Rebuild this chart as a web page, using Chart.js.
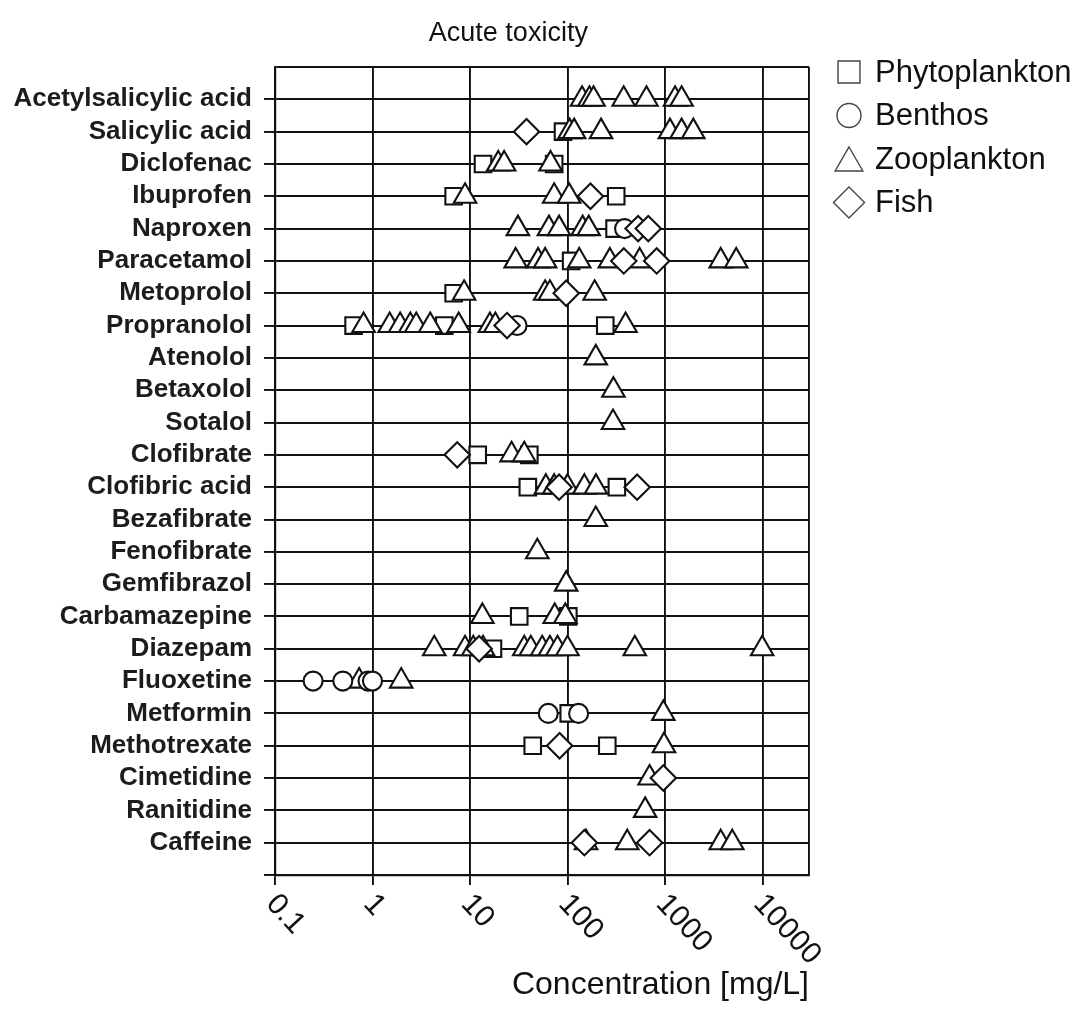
<!DOCTYPE html>
<html>
<head>
<meta charset="utf-8">
<title>Acute toxicity</title>
<script src="https://cdn.jsdelivr.net/npm/chart.js@4"></script>
<style>
    html, body { margin: 0; padding: 0; background: #fff; }
    canvas { display: block; }
</style>
</head>
<body>
<canvas id="chart" width="1081" height="1015"></canvas>
<script>
const chartTitle = 'Acute toxicity';
const axisTitle = 'Concentration [mg/L]';

const drugs = [
    'Acetylsalicylic acid', 'Salicylic acid', 'Diclofenac', 'Ibuprofen', 'Naproxen',
    'Paracetamol', 'Metoprolol', 'Propranolol', 'Atenolol', 'Betaxolol', 'Sotalol',
    'Clofibrate', 'Clofibric acid', 'Bezafibrate', 'Fenofibrate', 'Gemfibrazol',
    'Carbamazepine', 'Diazepam', 'Fluoxetine', 'Metformin', 'Methotrexate',
    'Cimetidine', 'Ranitidine', 'Caffeine'
];

const xTicks = [0.1, 1, 10, 100, 1000, 10000];
const xTickLabels = ['0.1', '1', '10', '100', '1000', '10000'];
const xMin = 0.1;
const xMax = 30000;

// values in mg/L, one list per drug (same order as drugs)
const phytoplankton = [
    [], [90], [13.6, 73], [6.8, 316], [304], [109], [6.8], [0.64, 5.45, 244],
    [], [], [], [12, 40.6], [39.2, 321], [], [], [],
    [32, 102], [17.2], [], [103], [44, 256], [], [], []
];

const benthos = [
    [], [], [], [], [385], [], [], [30.4],
    [], [], [], [], [], [], [], [],
    [], [], [0.246, 0.496, 0.9, 1.0], [63.5, 130], [], [], [], []
];

const zooplankton = [
    [141, 168, 185, 377, 646, 1268, 1480],
    [105, 117, 221, 1124, 1480, 1950],
    [19.5, 22.4, 67],
    [8.9, 73, 104],
    [31, 64.5, 82, 143, 165],
    [29.4, 50, 59, 132, 272, 550, 3730, 5380],
    [8.7, 59, 66, 190],
    [0.81, 1.5, 1.92, 2.44, 2.81, 3.91, 7.65, 16, 18.2, 394],
    [195],
    [296],
    [293],
    [26.7, 36],
    [60, 73, 100, 149, 196],
    [195],
    [49],
    [97],
    [13.4, 74, 95],
    [4.3, 8.9, 10.8, 13.6, 36, 42, 55, 66, 79, 100, 490, 9930],
    [0.73, 1.97],
    [962],
    [977],
    [695],
    [626],
    [155, 410, 3730, 4900]
];

const fish = [
    [], [38], [], [172], [530, 674], [378, 822], [97], [24],
    [], [], [], [7.4], [82, 518], [], [], [],
    [], [12.4], [], [], [83], [962], [], [149, 695]
];

function toPoints(rows) {
    const pts = [];
    rows.forEach((vals, i) => {
        vals.forEach(v => pts.push({ x: v, y: i }));
    });
    return pts;
}

const ink = '#111';

function series(label, rows, style, radius, order) {
    return {
        label: label,
        data: toPoints(rows),
        pointStyle: style,
        pointRadius: radius,
        pointHoverRadius: radius,
        backgroundColor: '#fff',
        borderColor: ink,
        borderWidth: 2.1,
        order: order
    };
}

// legend, title and rotated x labels drawn on top
const extras = {
    id: 'extras',
    afterDraw(chart) {
        const { ctx, chartArea } = chart;
        const xs = chart.scales.x;
        ctx.save();
        ctx.fillStyle = ink;

        ctx.font = '27px "Liberation Sans", Arial, sans-serif';
        ctx.textAlign = 'center';
        ctx.textBaseline = 'alphabetic';
        ctx.fillText(chartTitle, chartArea.left + (chartArea.right - chartArea.left) * 0.437, chartArea.top - 26);

        ctx.font = '30px "Liberation Sans", Arial, sans-serif';
        ctx.textAlign = 'left';
        ctx.textBaseline = 'middle';
        xTicks.forEach((v, i) => {
            const px = xs.getPixelForValue(v);
            ctx.save();
            ctx.translate(px - 4, chartArea.bottom + 24);
            ctx.rotate(47 * Math.PI / 180);
            ctx.fillText(xTickLabels[i], 0, 0);
            ctx.restore();
        });

        const legendRadius = { rect: 15.5, circle: 12, triangle: 16, rectRot: 15.5 };
        const lx = chartArea.right + 40;
        let ly = chartArea.top + 5;
        ctx.font = '31px "Liberation Sans", Arial, sans-serif';
        chart.data.datasets.forEach(ds => {
            const r = legendRadius[ds.pointStyle];
            const dy = ds.pointStyle === 'triangle' ? 4 : 0;
            ctx.fillStyle = '#fff';
            ctx.strokeStyle = '#444';
            ctx.lineWidth = 1.4;
            Chart.helpers.drawPoint(ctx, { pointStyle: ds.pointStyle, radius: r, borderWidth: 1.4, rotation: 0 }, lx, ly + dy);
            ctx.fillStyle = ink;
            ctx.fillText(ds.label, chartArea.right + 66, ly + 1);
            ly += 43.5;
        });
        ctx.restore();
    }
};

const ctx = document.getElementById('chart').getContext('2d');
Chart.defaults.font.family = '"Liberation Sans", Arial, Helvetica, sans-serif';
Chart.defaults.color = ink;

const chart = new Chart(ctx, {
    type: 'scatter',
    data: {
        datasets: [
            series('Phytoplankton', phytoplankton, 'rect', 11.7, 3),
            series('Benthos', benthos, 'circle', 9.5, 1),
            series('Zooplankton', zooplankton, 'triangle', 13, 2),
            series('Fish', fish, 'rectRot', 12.7, 0)
        ]
    },
    options: {
        responsive: false,
        animation: false,
        devicePixelRatio: 1,
        layout: { padding: { top: 67, right: 272, left: 0, bottom: 0 } },
        plugins: {
            legend: { display: false },
            tooltip: { enabled: false }
        },
        scales: {
            x: {
                type: 'logarithmic',
                min: xMin,
                max: xMax,
                afterBuildTicks: s => { s.ticks = xTicks.concat([xMax]).map(v => ({ value: v })); },
                afterFit: s => { s.height = 140; },
                ticks: { display: false },
                grid: {
                    color: ink,
                    lineWidth: 1.9,
                    tickLength: 10,
                    tickWidth: 1.9,
                    tickColor: c => (c.tick && c.tick.value === xMax) ? 'rgba(0,0,0,0)' : ink
                },
                border: { color: ink, width: 2.2 },
                title: {
                    display: true,
                    text: axisTitle,
                    align: 'end',
                    color: ink,
                    font: { size: 32 },
                    padding: { top: 0, bottom: 11 }
                }
            },
            y: {
                type: 'linear',
                reverse: true,
                min: -1,
                max: drugs.length,
                afterBuildTicks: s => {
                    const t = [];
                    for (let v = -1; v <= drugs.length; v++) t.push({ value: v });
                    s.ticks = t;
                },
                afterFit: s => { s.width = 275; },
                ticks: {
                    autoSkip: false,
                    padding: 12,
                    color: '#1c1c1c',
                    font: { size: 26, weight: 'bold' },
                    callback: v => drugs[v] ?? ''
                },
                grid: {
                    color: ink,
                    lineWidth: 1.9,
                    tickLength: 11,
                    tickWidth: 1.9,
                    tickColor: c => (c.tick && c.tick.value === -1) ? 'rgba(0,0,0,0)' : ink
                },
                border: { color: ink, width: 2.2 }
            }
        }
    },
    plugins: [extras]
});
</script>
</body>
</html>
